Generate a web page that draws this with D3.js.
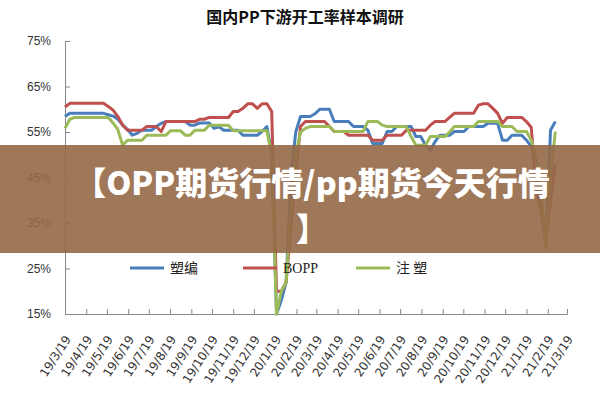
<!DOCTYPE html>
<html><head><meta charset="utf-8">
<script src="https://cdn.jsdelivr.net/npm/d3@7"></script>
<style>body{margin:0;background:#fff}svg{display:block}</style>
</head><body><svg id="c" width="600" height="400"></svg>
<script>
const chartTitle = "国内PP下游开工率样本调研";
const seriesNames = ["塑编", "BOPP", "注 塑"];
const seriesColors = ["#4a7ebb", "#c0504d", "#9bbb59"];
const firstSampleDate = "2019-03-19"; // weekly samples
const suBian = [
  58.4,59.1,59.1,59.1,59.1,59.1,59.1,59.1,59.1,58.8,
  58.5,57.8,56.5,55.6,54.3,54.7,55.4,55.4,55.4,56.2,
  56.9,57.3,57.3,57.3,57.3,57.3,56.5,56.5,57.0,57.0,
  57.0,55.8,56.2,55.4,55.4,55.4,55.4,54.3,54.3,54.3,
  54.3,55.1,56.2,50,15,18,22,45,55,58.4,
  58.4,58.4,59,60,60,60,57.3,57.3,57.3,57.3,
  56.2,56.2,56.2,55.4,52.5,52.5,52.5,55.1,55.1,56.2,
  56.2,56.2,56.2,54,54,52.1,51,52.9,54.3,54.3,
  54.3,55.1,55.1,55.1,56.2,56.2,56.2,56.2,56.9,56.9,
  56.9,53.2,53.2,54.3,54.3,54.3,53.2,51.8,49,40,
  30,55.4,57.3];
const bopp = [
  60.5,61.3,61.3,61.3,61.3,61.3,61.3,61.3,61.3,60.6,
  59.8,58.4,56.5,55.4,55.4,55.4,55.4,56.2,56.2,56.2,
  55.1,57.3,57.3,57.3,57.3,57.3,57.3,57.3,57.8,57.8,
  58.2,58.2,58.2,58.2,58.2,59.5,59.5,60.2,61.2,61.2,
  60.2,61.2,61.2,59.5,20,20,22,34,46,56.2,
  57.3,57.3,57.3,57.3,57.3,56.2,55.1,55.1,55.1,54.3,
  54.3,54.3,54.3,54.3,53.2,53.2,53.2,54.3,54.3,54.3,
  54.3,55.4,55.4,55.4,55.4,55.4,56.5,57.3,57.3,57.3,
  58.2,59.1,59.1,59.1,59.1,59.1,60.9,61.2,61.2,60.2,
  59.1,56.9,58.2,58.2,58.2,58.2,57.3,56,42,38,
  30,40,48];
const zhuSu = [
  55.8,57.8,58.2,58.2,58.2,58.2,58.2,58.2,58.2,58.2,
  57.0,55.5,52.1,53.2,53.2,53.2,53.2,54.3,54.3,54.3,
  54.3,54.3,55.3,55.3,55.3,54.3,54.3,55.4,55.4,55.4,
  56.5,56.5,56.5,56.5,56.5,55.3,55.3,55.3,55.3,55.3,
  55.3,55.3,55.3,50,15,20,22,38,50,55,
  55.8,56.2,56.2,56.2,56.2,56.2,55.1,55.1,55.1,55.1,
  55.1,55.1,55.1,57.3,57.3,57.3,56.5,56.2,56.2,56.2,
  56.2,56.2,54,52.1,52.1,52.1,54,54,54,54,
  55,56.2,56.2,56.2,56.2,56.2,57.3,57.3,57.3,57.3,
  57.3,56.2,56.2,56.2,55.1,55.1,55.1,53.2,49.6,42,
  29.7,45,55.1];
const yTickValues = [15, 25, 35, 45, 55, 65, 75];
const xTickLabels = ["19/3/19","19/4/19","19/5/19","19/6/19","19/7/19","19/8/19","19/9/19",
  "19/10/19","19/11/19","19/12/19","20/1/19","20/2/19","20/3/19","20/4/19","20/5/19",
  "20/6/19","20/7/19","20/8/19","20/9/19","20/10/19","20/11/19","20/12/19","21/1/19",
  "21/2/19","21/3/19"];
const bannerLines = ["【OPP期货行情/pp期货今天行情", "】"];

const svg = d3.select("#c");
const parseLabel = s => { const [yy, m, d] = s.split("/").map(Number); return new Date(Date.UTC(2000 + yy, m - 1, d)); };
const tickDates = xTickLabels.map(parseLabel);
const start = new Date(firstSampleDate + "T00:00:00Z");
const sampleDates = suBian.map((_, i) => d3.utcDay.offset(start, 7 * i));

const x = d3.scaleUtc().domain([tickDates[0], tickDates[tickDates.length - 1]]).range([65, 567]);
const y = d3.scaleLinear().domain([15, 75]).range([314, 41]);

// title
svg.append("text").attr("x", 305).attr("y", 23).attr("text-anchor", "middle")
  .style("font-family", "'Noto Sans CJK SC'").style("font-weight", "700").style("font-size", "16px")
  .attr("fill", "#111").text(chartTitle);

// y axis
const yAxis = svg.append("g").attr("transform", "translate(65,0)")
  .call(d3.axisLeft(y).tickValues(yTickValues).tickFormat(d => d + "%").tickSizeInner(-5).tickSizeOuter(0).tickPadding(14));
yAxis.select(".domain").attr("stroke", "#888");
yAxis.selectAll(".tick line").attr("stroke", "#888");
yAxis.selectAll("text").style("font-family", "'Liberation Sans'").style("font-size", "12px").attr("fill", "#333");

// x axis
const xAxis = svg.append("g").attr("transform", "translate(0,314)")
  .call(d3.axisBottom(x).tickValues(tickDates).tickFormat((d, i) => xTickLabels[i]).tickSizeInner(-5).tickSizeOuter(0));
xAxis.select(".domain").attr("stroke", "#888");
xAxis.selectAll(".tick line").attr("stroke", "#888");
xAxis.selectAll("text").style("font-family", "'DejaVu Sans'").style("font-size", "12px").attr("fill", "#333")
  .attr("text-anchor", "end").attr("dy", null).attr("y", null)
  .attr("transform", "translate(6,25) rotate(-57)");

// lines
const allSeries = [suBian, bopp, zhuSu];
const line = d3.line().x((d, i) => x(sampleDates[i])).y(d => y(d));
allSeries.forEach((s, k) => {
  svg.append("path").datum(s).attr("d", line).attr("fill", "none")
    .attr("stroke", seriesColors[k]).attr("stroke-width", 3).attr("stroke-linejoin", "round");
});

// legend
const legendX = [130, 243, 356];
seriesNames.forEach((n, k) => {
  const g = svg.append("g").attr("transform", `translate(${legendX[k]},268)`);
  g.append("line").attr("x1", 0).attr("x2", 34).attr("y1", 0).attr("y2", 0)
    .attr("stroke", seriesColors[k]).attr("stroke-width", 3);
  g.append("text").attr("x", 40).attr("y", 5)
    .style("font-family", k === 1 ? "'Liberation Serif'" : "'Noto Sans CJK SC'").style("font-size", "14px")
    .attr("fill", "#222").text(n);
});

// banner overlay
svg.append("rect").attr("x", 0).attr("y", 145).attr("width", 600).attr("height", 108)
  .attr("fill", "rgb(149,105,72)").attr("opacity", 0.9);
bannerLines.forEach((t, k) => {
  svg.append("text").attr("x", 312).attr("y", 195 + k * 46).attr("text-anchor", "middle")
    .style("font-family", "'Noto Sans CJK SC'").style("font-weight", "900").style("font-size", "32px")
    .attr("fill", "#fff").text(t);
});
</script>
</body></html>
